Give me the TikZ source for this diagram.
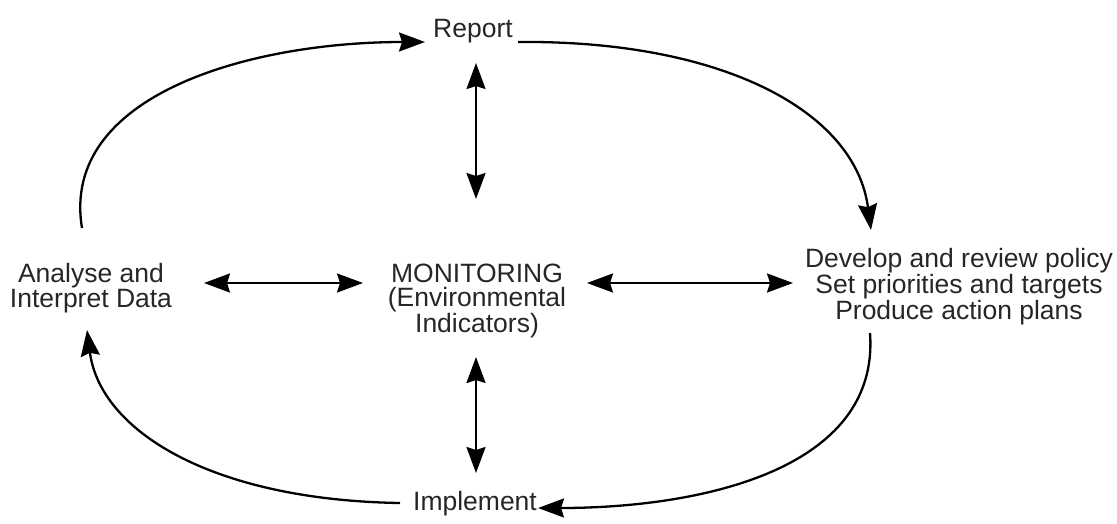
\documentclass[tikz,border=0pt]{standalone}
\usepackage{fontspec}
\setmainfont{Liberation Sans}
\usetikzlibrary{arrows.meta}
\begin{document}
\begin{tikzpicture}[x=1pt,y=-1pt,
  lbl/.style={font=\fontsize{26.5}{27}\selectfont, inner sep=0pt, align=center, text=black!85},
  arr/.style={line width=2.3pt, -{Stealth[length=26pt,width=19pt,inset=3pt]}},
  darr/.style={line width=2.3pt, {Stealth[length=26pt,width=19pt,inset=3pt]}-{Stealth[length=26pt,width=19pt,inset=3pt]}}]
\useasboundingbox (0,0) rectangle (1117,523);
\node[lbl, anchor=base] (report) at (473,37) {Report};
\node[lbl, anchor=base] (implement) at (475,510) {Implement};
\node[lbl, font=\fontsize{26.5}{24.5}\selectfont] (mon) at (477,301) {MONITORING\\(Environmental\\Indicators)};
\node[lbl, font=\fontsize{26.5}{25.5}\selectfont] (ana) at (91,288) {Analyse and\\Interpret Data};
\node[lbl, font=\fontsize{26.5}{26}\selectfont] (dev) at (959,287) {Develop and review policy\\Set priorities and targets\\Produce action plans};
% coordinates
\coordinate (tlA) at (82,228);
\coordinate (tlB) at (425,42);
\coordinate (trA) at (518,42);
\coordinate (trB) at (871,230);
\coordinate (brA) at (870,333);
\coordinate (brB) at (538,508);
\coordinate (blA) at (400,503);
\coordinate (blB) at (87,330);
\coordinate (vt1) at (476,63);
\coordinate (vt2) at (476,199);
\coordinate (vb1) at (476,357);
\coordinate (vb2) at (476,473);
\coordinate (hl1) at (204,283);
\coordinate (hl2) at (363,283);
\coordinate (hr1) at (587,283);
\coordinate (hr2) at (793,283);
% curves
\draw[arr] (tlA) .. controls (60,95) and (250,42) .. (tlB);
\draw[arr] (trA) .. controls (720,40) and (855,110) .. (trB);
\draw[arr] (brA) .. controls (880,470) and (700,508) .. (brB);
\draw[arr] (blA) .. controls (210,500) and (100,430) .. (blB);
% double arrows
\draw[darr] (vt1) -- (vt2);
\draw[darr] (vb1) -- (vb2);
\draw[darr] (hl1) -- (hl2);
\draw[darr] (hr1) -- (hr2);
\end{tikzpicture}
\end{document}
